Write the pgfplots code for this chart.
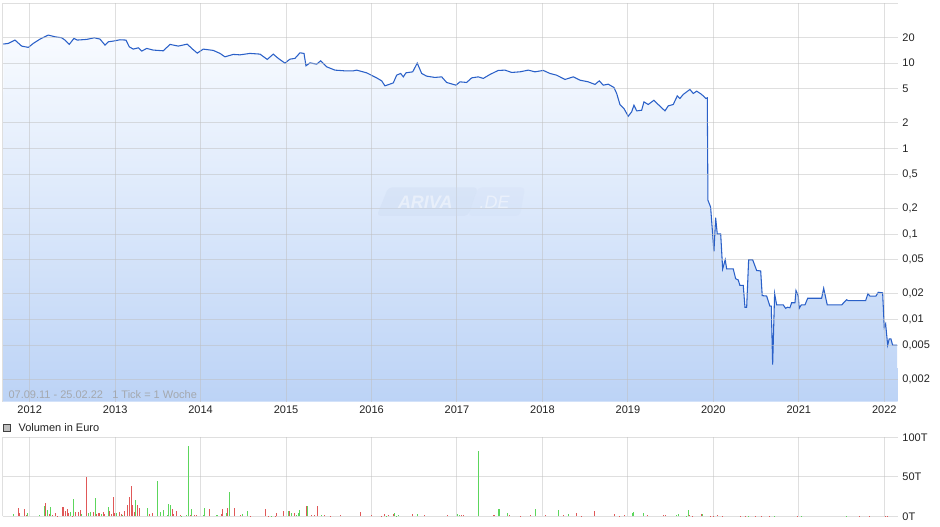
\documentclass[border=0pt]{standalone}
\usepackage{pgfplots}
\pgfplotsset{compat=1.18}
\usepackage{pgfplotstable}
\usepackage{fontspec}
\setmainfont{Liberation Sans}
\definecolor{gridc}{HTML}{BFBFBF}
\definecolor{linec}{HTML}{2A60C8}
\definecolor{filltop}{HTML}{F8FBFF}
\definecolor{fillbot}{HTML}{BCD3F6}
\definecolor{volred}{HTML}{E05858}
\definecolor{volgreen}{HTML}{5CD65C}
\definecolor{labc}{HTML}{222222}
\definecolor{notec}{HTML}{A4A8AE}
\definecolor{wmbox}{HTML}{C9D8F0}

\pgfplotstableread{
x y
2011.691 16.70
2011.750 17.02
2011.828 18.61
2011.906 15.82
2011.984 15.28
2012.042 17.02
2012.121 19.11
2012.218 21.30
2012.296 20.34
2012.374 19.80
2012.413 18.61
2012.463 16.57
2012.518 19.48
2012.557 18.61
2012.667 18.96
2012.756 19.80
2012.823 19.11
2012.881 16.26
2012.920 17.77
2012.978 18.11
2013.057 18.76
2013.127 18.61
2013.165 15.53
2013.212 14.59
2013.271 15.11
2013.311 13.83
2013.369 14.87
2013.446 14.21
2013.563 13.94
2013.642 16.57
2013.739 15.82
2013.844 16.70
2013.896 14.87
2013.961 13.10
2014.031 14.59
2014.148 14.09
2014.227 12.99
2014.285 11.85
2014.382 12.65
2014.461 12.50
2014.578 12.99
2014.695 12.75
2014.780 11.05
2014.850 12.75
2014.909 11.36
2014.987 10.00
2015.046 11.14
2015.104 11.36
2015.163 13.21
2015.210 12.99
2015.233 9.30
2015.280 10.08
2015.358 9.73
2015.405 10.64
2015.475 9.05
2015.572 8.28
2015.689 8.12
2015.786 8.12
2015.826 8.28
2015.943 7.70
2016.060 6.72
2016.119 6.20
2016.157 5.42
2016.255 5.87
2016.294 7.23
2016.341 7.57
2016.372 6.91
2016.403 7.70
2016.482 7.91
2016.535 10.00
2016.587 7.57
2016.645 7.04
2016.742 6.80
2016.821 6.91
2016.879 5.94
2016.988 5.52
2017.035 6.04
2017.113 5.94
2017.172 6.72
2017.249 6.91
2017.308 6.62
2017.386 7.37
2017.483 8.21
2017.562 8.28
2017.640 7.78
2017.737 7.91
2017.834 8.28
2017.913 7.91
2018.010 8.21
2018.088 7.57
2018.166 7.23
2018.264 6.44
2018.361 6.91
2018.439 6.32
2018.536 6.04
2018.615 5.63
2018.665 6.20
2018.712 5.52
2018.770 5.67
2018.837 5.19
2018.869 4.41
2018.907 3.28
2018.954 2.94
2019.004 2.39
2019.044 2.69
2019.071 3.22
2019.103 2.76
2019.161 2.81
2019.188 3.52
2019.238 3.28
2019.305 3.68
2019.355 3.28
2019.434 2.76
2019.472 3.16
2019.531 3.28
2019.578 4.14
2019.609 3.86
2019.648 4.30
2019.726 4.92
2019.765 4.41
2019.805 4.70
2019.863 4.30
2019.913 3.86
2019.929 3.92
2019.937 0.248
2019.968 0.207
2020.007 0.0625
2020.027 0.155
2020.046 0.100
2020.086 0.100
2020.109 0.039
2020.139 0.050
2020.156 0.039
2020.233 0.039
2020.261 0.030
2020.291 0.029
2020.311 0.025
2020.350 0.025
2020.370 0.0139
2020.390 0.0139
2020.413 0.050
2020.460 0.050
2020.507 0.0374
2020.554 0.0370
2020.572 0.0190
2020.624 0.0188
2020.662 0.0143
2020.678 0.0143
2020.694 0.00296
2020.717 0.0200
2020.741 0.0148
2020.818 0.0148
2020.846 0.0135
2020.869 0.0139
2020.896 0.0137
2020.916 0.0157
2020.955 0.0157
2020.967 0.0218
2020.993 0.0190
2021.005 0.0135
2021.029 0.0148
2021.072 0.0148
2021.104 0.0177
2021.267 0.0177
2021.291 0.0232
2021.333 0.0148
2021.501 0.0148
2021.560 0.0170
2021.579 0.0166
2021.782 0.0166
2021.809 0.0200
2021.832 0.0188
2021.903 0.0188
2021.930 0.0208
2021.981 0.0205
2022.000 0.0081
2022.016 0.0089
2022.040 0.0050
2022.058 0.00593
2022.078 0.00593
2022.098 0.0050
2022.150 0.0050
}\pricedata

\pgfplotstableread{
x y
2011.867 10.5
2011.878 4.6
2011.937 9.3
2011.957 1.7
2012.183 16.9
2012.229 3.0
2012.264 1.7
2012.300 3.8
2012.323 0.8
2012.381 11.8
2012.393 11.8
2012.417 6.3
2012.440 9.3
2012.452 4.6
2012.498 0.8
2012.534 5.5
2012.569 5.5
2012.592 8.0
2012.662 49.8
2012.744 5.5
2012.779 3.0
2012.803 4.2
2012.814 4.2
2012.861 5.5
2012.873 3.0
2012.931 6.8
2012.955 3.0
2012.978 24.5
2012.990 4.2
2013.048 5.5
2013.072 3.0
2013.107 6.8
2013.142 14.3
2013.165 24.5
2013.189 38.4
2013.201 14.3
2013.224 5.5
2013.259 14.3
2013.283 10.5
2013.400 3.0
2013.435 4.2
2013.669 9.3
2013.680 3.0
2013.715 6.8
2013.762 1.7
2013.879 1.7
2013.926 1.7
2013.950 1.7
2014.102 9.3
2014.242 3.0
2014.254 9.3
2014.312 10.5
2014.394 10.5
2014.464 1.7
2014.581 0.8
2014.757 9.3
2014.792 0.8
2014.874 0.8
2014.886 4.2
2014.968 6.8
2015.038 6.8
2015.096 4.2
2015.237 13.1
2015.295 1.7
2015.330 1.7
2015.365 13.1
2015.447 1.7
2015.518 0.8
2015.635 1.7
2015.869 5.5
2015.997 1.7
2016.114 0.8
2016.149 3.0
2016.196 1.7
2016.255 3.0
2016.477 3.0
2016.617 1.7
2016.887 1.7
2017.050 1.7
2017.074 1.7
2017.425 1.7
2017.441 1.7
2017.612 1.7
2017.741 0.8
2017.858 1.7
2018.033 1.7
2018.244 1.7
2018.396 4.2
2018.455 0.8
2018.607 6.8
2018.841 3.0
2018.899 0.8
2018.958 1.7
2019.227 1.7
2019.414 1.7
2019.437 1.7
2019.718 1.7
2019.753 0.8
2019.859 3.0
2019.961 0.8
2019.996 0.8
2020.046 1.7
2020.104 0.8
2020.315 0.8
2020.374 0.8
2020.491 0.8
2020.561 0.8
2020.654 0.8
2020.982 0.8
2021.707 0.8
2021.825 0.8
2022.012 0.8
2022.035 0.8
}\redvol

\pgfplotstableread{
x y
2011.808 2.5
2011.972 3.8
2012.112 1.7
2012.171 13.1
2012.206 8.0
2012.241 11.8
2012.475 5.5
2012.510 21.9
2012.604 3.0
2012.686 4.2
2012.709 5.5
2012.768 23.2
2012.838 3.0
2012.920 11.8
2013.013 4.2
2013.084 1.7
2013.236 20.7
2013.376 10.5
2013.493 44.7
2013.528 5.5
2013.563 8.0
2013.610 1.7
2013.622 15.6
2013.645 14.3
2013.774 0.8
2013.832 1.7
2013.856 89.0
2013.891 9.3
2014.031 1.7
2014.043 10.5
2014.184 1.7
2014.195 1.7
2014.301 4.2
2014.336 30.8
2014.488 3.0
2014.546 6.8
2014.827 0.8
2015.026 6.8
2015.061 4.2
2015.120 1.7
2015.143 4.2
2015.155 8.0
2015.248 13.1
2015.412 1.7
2016.173 0.8
2016.266 4.2
2016.290 0.8
2016.313 1.7
2016.536 3.0
2017.004 3.0
2017.027 1.7
2017.249 82.7
2017.488 9.3
2017.500 9.3
2017.593 4.2
2017.916 9.3
2018.185 8.0
2018.302 3.0
2019.051 4.2
2019.063 5.5
2019.180 4.2
2019.566 1.7
2019.590 3.0
2019.683 0.8
2019.707 8.0
2019.870 3.0
2020.409 0.8
2020.713 0.8
2021.029 0.8
2021.555 0.8
}\greenvol

\pgfplotsset{
  mystyle/.style={
    scale only axis,
    width=670.875pt,
    xmin=2011.6876, xmax=2022.155,
    xtick={2012,2013,2014,2015,2016,2017,2018,2019,2020,2021,2022},
    grid=major,
    major grid style={draw=gridc, opacity=0.5, line width=0.75pt},
    axis line style={draw=none},
    tick style={draw=none},
    major tick length=0pt,
    extra x ticks={2011.6876},
    extra x tick labels={},
    extra tick style={grid=major},
    yticklabel pos=right,
    yticklabel style={anchor=west, inner sep=0pt, xshift=3.5pt, text=labc,
      font=\fontsize{8.25}{10}\selectfont},
    xticklabel style={anchor=north, inner sep=0pt, yshift=-3pt, text=labc,
      font=\fontsize{8.25}{10}\selectfont},
  }
}

\begin{document}
\begin{tikzpicture}
\begin{axis}[
  mystyle,
  at={(2.25pt,93.225pt)}, anchor=south west,
  height=299.0pt,
  axis on top,
  ymode=log, ymin=0.00109, ymax=50.5,
  xticklabels={2012,2013,2014,2015,2016,2017,2018,2019,2020,2021,2022},
  ytick={0.002,0.005,0.01,0.02,0.05,0.1,0.2,0.5,1,2,5,10,20},
  yticklabels={{0,002},{0,005},{0,01},{0,02},{0,05},{0,1},{0,2},{0,5},1,2,5,10,20},
  extra y ticks={50.5},
  extra y tick labels={},
]
\addplot[draw=none, top color=filltop, bottom color=fillbot]
  table[x=x,y=y]{\pricedata} -- (axis cs:2022.155,0.00109) -- (axis cs:2011.6876,0.00109) -- cycle;
\addplot[linec, line width=0.8pt, no marks] table[x=x,y=y]{\pricedata};
\end{axis}

% watermark
\fill[wmbox, opacity=0.3, rounded corners=3pt] (282.5pt,232.5pt) -- (291.2pt,254pt) -- (358.5pt,254pt) -- (351pt,232.5pt) -- cycle;
\fill[wmbox, opacity=0.18, rounded corners=3pt] (351pt,232.5pt) -- (358.5pt,254pt) -- (393.75pt,254pt) -- (390pt,232.5pt) -- cycle;
\node[text=white, opacity=0.45, font=\fontsize{13.5}{14}\bfseries\itshape, inner sep=0pt] at (319pt,243pt) {ARIVA};
\node[text=white, opacity=0.45, font=\fontsize{13.5}{14}\itshape, inner sep=0pt] at (371pt,243pt) {.DE};

% period note
\node[anchor=west, inner sep=0pt, text=notec, font=\fontsize{8.25}{10}\selectfont] at (6.2pt,98.6pt) {07.09.11 - 25.02.22\ \ \ 1 Tick = 1 Woche};

% volume header
\draw[fill=black!25, draw=black!75, line width=0.5pt] (2.2pt,70.9pt) rectangle (7.4pt,76.2pt);
\node[anchor=west, inner sep=0pt, text=labc, font=\fontsize{8.25}{10}\selectfont] at (13.7pt,73.5pt) {Volumen in Euro};

\begin{axis}[
  mystyle,
  at={(2.25pt,7.275pt)}, anchor=south west,
  height=59.25pt,
  ymin=0, ymax=100,
  xticklabels={},
  ytick={0,50,100},
  yticklabels={0T,50T,100T},
]
\addplot[ycomb, volred, line width=0.75pt, no marks] table[x=x,y=y]{\redvol};
\addplot[ycomb, volgreen, line width=0.75pt, no marks] table[x=x,y=y]{\greenvol};
\end{axis}
\path (0,0) rectangle (705pt,394.5pt);
\end{tikzpicture}
\end{document}
